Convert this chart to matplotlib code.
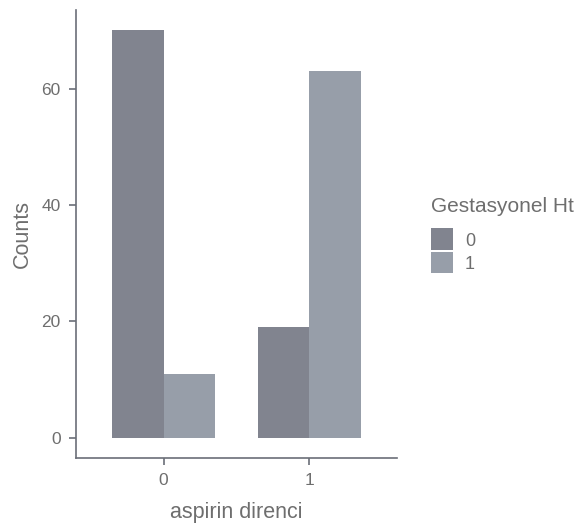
import matplotlib

matplotlib.use("Agg")
import matplotlib.pyplot as plt
import numpy as np
from matplotlib.patches import Rectangle

groups = ["0", "1"]
series_labels = ["0", "1"]
counts = {
    "0": [70, 19],
    "1": [11, 63],
}
y_ticks = [0, 20, 40, 60]

colors = {"0": "#81848f", "1": "#979ea9"}
text_color = "#6e6e6e"
line_color = "#6b6e78"

plt.rcParams["font.family"] = ["Liberation Sans", "DejaVu Sans"]

W, H = 583, 527
fig = plt.figure(figsize=(W / 100, H / 100), dpi=100)
ax = fig.add_axes([76 / W, 1 - 458 / H, 321 / W, 448 / H])

x = np.arange(len(groups))
width = 0.35
for i, label in enumerate(series_labels):
    offset = (i - 0.5) * width
    ax.bar(x + offset, counts[label], width=width, color=colors[label],
           linewidth=0)

ax.set_xlim(-0.6, 1.6)
ax.set_ylim(-3.5, 73.5)
ax.set_xticks(x)
ax.set_xticklabels(groups)
ax.set_yticks(y_ticks)

for side in ("top", "right"):
    ax.spines[side].set_visible(False)
for side in ("left", "bottom"):
    ax.spines[side].set_color(line_color)
    ax.spines[side].set_linewidth(1.2)
ax.tick_params(colors=line_color, labelcolor=text_color, labelsize=12.5,
               length=5, width=1.2, pad=6)

ax.set_xlabel("aspirin direnci", fontsize=15.5, color=text_color, labelpad=10)
ax.set_ylabel("Counts", fontsize=15.5, color=text_color, labelpad=6)


# legend drawn in pixel positions on the figure
def px(xp, yp):
    return xp / W, 1 - yp / H


fig.text(*px(431, 212), "Gestasyonel Ht", fontsize=15, color=text_color,
         ha="left", va="baseline")
for i, label in enumerate(series_labels):
    top = 228 + i * 23.5
    x0, y0 = px(431, top + 21.5)
    fig.add_artist(Rectangle((x0, y0), 22 / W, 21.5 / H, facecolor=colors[label],
                             edgecolor="none", transform=fig.transFigure))
    fig.text(*px(465, top + 11), label, fontsize=13, color=text_color,
             ha="left", va="center_baseline")

fig.savefig("out.png", dpi=100)
